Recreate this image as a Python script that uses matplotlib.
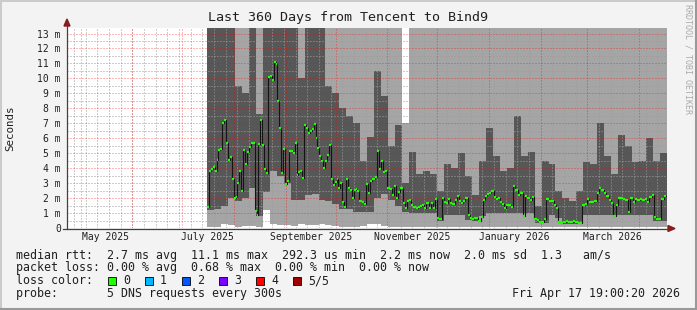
import numpy as np
import pandas as pd
import matplotlib
matplotlib.use('Agg')
import matplotlib.pyplot as plt
import matplotlib.dates as mdates
from matplotlib.patches import Rectangle, Polygon
from matplotlib.lines import Line2D

# time span of the graph
graph_start = '2025-04-22 19:00:20'
graph_end = '2026-04-17 19:00:20'

# median rtt (ms) in three stretches
median_bounds = ['2025-07-15 19:00', '2025-10-15 05:00', '2026-01-15 09:00', '2026-04-17 05:00']
median_a = [1.43, 3.8, 3.96, 4.1, 3.8, 4.55, 5.2, 5.3, 7.0, 7.25,
            5.7, 4.55, 4.75, 3.3, 2.03, 2.1, 3.0, 3.8, 2.48, 5.2,
            4.3, 5.1, 5.4, 5.7, 5.7, 1.14, 0.87, 5.6, 7.25, 5.57,
            3.96, 3.7, 10.07, 10.15, 9.87, 11.1, 10.94, 8.52, 6.7, 3.7,
            5.3, 2.95, 3.15, 5.12, 5.17, 5.0, 5.7, 3.56, 3.74, 3.78,
            3.37, 6.9, 6.69, 6.36, 6.46, 6.64, 6.96, 6.02, 5.35, 4.79,
            4.5, 4.0, 4.45, 4.9, 5.57, 3.29, 2.89, 3.1, 3.29, 2.7,
            3.0, 1.77, 1.43, 3.29, 2.66, 2.55, 1.99, 2.55, 2.62, 2.48]
median_b = [1.81, 1.77, 1.59, 2.93, 2.33, 3.15, 3.29, 3.44, 5.17, 3.96,
            4.45, 3.74, 3.78, 2.7, 2.62, 2.21, 2.84, 1.99, 2.44, 2.7,
            1.66, 1.36, 1.81, 1.88, 1.54, 1.43, 1.36, 1.43, 1.5, 1.54,
            1.36, 1.66, 1.36, 1.66, 1.36, 1.95, 0.65, 0.6, 1.99, 1.77,
            1.66, 1.95, 1.66, 1.59, 1.88, 2.17, 1.81, 1.66, 1.81, 2.03,
            0.87, 0.69, 0.6, 0.65, 0.65, 0.47, 0.76, 1.88, 2.17, 2.26,
            2.33, 2.48, 2.1, 1.95, 2.03, 1.72, 1.59, 1.36, 1.54, 1.54,
            1.43]
median_c = [2.84, 2.55, 2.21, 2.33, 0.83, 2.17, 1.99, 1.88, 2.1, 0.6,
            0.54, 0.42, 0.42, 0.6, 1.95, 1.81, 1.81, 1.54, 1.36, 0.38,
            0.31, 0.38, 0.47, 0.38, 0.42, 0.47, 0.38, 0.31, 0.31, 1.54,
            1.59, 1.95, 1.77, 1.72, 1.81, 2.33, 2.7, 2.55, 2.33, 2.17,
            1.88, 1.66, 0.83, 1.54, 2.03, 2.03, 1.95, 1.88, 1.09, 1.99,
            1.72, 1.95, 1.88, 1.95, 1.88, 1.95, 1.72, 2.1, 2.21, 0.76,
            0.6, 0.6, 1.95, 2.17]

# smoke: sorted pings 1, 2, 4, 5 (ms), coarser bins
smoke_start = '2025-07-15 19:00'
smoke_end = '2026-04-17 19:00'
ping1 = [0.05, 0.08, 0.25, 0.2, 0.1, 0.12, 0.15, 0.1, 1.2, 0.3,
         0.2, 0.2, 0.15, 0.25, 0.2, 0.2, 0.3, 0.2, 0.15, 0.1,
         0.1, 0.1, 0.15, 0.3, 0.3, 0.15, 0.1, 0.08, 0.08, 0.08,
         0.06, 0.06, 0.08, 0.06, 0.06, 0.08, 0.06, 0.06, 0.06, 0.06,
         0.08, 0.06, 0.06, 0.08, 0.06, 0.06, 0.06, 0.06, 0.06, 0.08,
         0.06, 0.05, 0.05, 0.05, 0.08, 0.06, 0.08, 0.06, 0.06, 0.08,
         0.06, 0.08, 0.06, 0.06, 0.06, 0.08]
ping2 = [1.2, 1.3, 1.5, 2.0, 1.8, 2.0, 2.7, 0.8, 2.4, 3.8,
         3.5, 3.0, 1.9, 1.9, 2.2, 2.3, 1.9, 1.8, 1.6, 1.3,
         1.3, 1.1, 1.1, 1.1, 2.0, 2.3, 1.9, 1.5, 1.1, 1.0,
         1.0, 1.0, 1.0, 0.5, 0.9, 0.9, 0.9, 0.55, 0.5, 0.8,
         1.0, 1.0, 1.0, 1.0, 1.0, 1.0, 1.0, 0.35, 0.35, 0.9,
         0.7, 0.28, 0.28, 0.28, 0.9, 0.9, 0.9, 0.9, 0.9, 0.9,
         0.9, 0.9, 0.9, 0.9, 0.45, 0.45]
ping4 = [14, 14, 14, 14, 9.5, 9.0, 14, 7.6, 14, 14,
         14, 14, 14, 10.0, 14, 14, 14, 9.5, 9.0, 8.0,
         7.5, 7.0, 4.5, 6.1, 10.5, 8.8, 5.5, 6.9, 3.0, 5.1,
         3.6, 3.8, 3.6, 2.5, 4.3, 4.0, 5.0, 3.5, 2.2, 4.5,
         6.7, 4.8, 3.8, 4.0, 7.5, 4.8, 5.1, 1.5, 4.5, 4.3,
         2.5, 2.0, 1.8, 2.5, 4.4, 4.3, 7.0, 4.8, 3.6, 6.2,
         5.5, 4.4, 4.5, 6.0, 4.5, 5.0]
ping5 = [14] * 28 + [7.0] + [14] * 37

month_label_dates = ['2025-05-16', '2025-07-16', '2025-09-16', '2025-11-16', '2026-01-16', '2026-03-16']
month_labels = ['May 2025', 'July 2025', 'September 2025', 'November 2025', 'January 2026', 'March 2026']

loss_labels = ['0', '1', '2', '3', '4', '5/5']
loss_colors = ['#20ff00', '#00b8ff', '#0059ff', '#7e00ff', '#ff0000', '#a10000']

W, H = 697, 310
MONO = 'DejaVu Sans Mono'


def num(dates):
    return mdates.date2num(pd.DatetimeIndex(dates).to_pydatetime())


def px(x, y):
    return x / W, 1 - y / H


fig = plt.figure(figsize=(W / 100, H / 100), dpi=100, facecolor='#f3f3f3')
ax = fig.add_axes([67 / W, (H - 228) / H, 600 / W, 200 / H], facecolor='white')

# smoke
edges = num(pd.date_range(smoke_start, smoke_end, periods=len(ping2) + 1))
def band(lo, hi, color):
    lo = np.append(lo, lo[-1])
    hi = np.append(hi, hi[-1])
    ax.fill_between(edges, lo, hi, step='post', color=color, lw=0, zorder=2)
band(ping1, ping2, '#a5a5a5')
band(ping2, ping4, '#575757')
band(ping4, ping5, '#a5a5a5')

# grid (dotted, drawn over the smoke like rrdtool does)
minor = dict(color='#9d9d9d', alpha=0.5, lw=1.0, dashes=(1, 1), antialiased=False, zorder=3)
major = dict(color='#ff0000', alpha=0.28, lw=1.0, dashes=(1, 1), antialiased=False, zorder=3)
for d in pd.date_range('2025-04-27', graph_end, freq='7D'):
    ax.axvline(mdates.date2num(d), **minor)
for v in np.arange(0.5, 13.5, 1.0):
    ax.axhline(v, **minor)
for d in pd.date_range('2025-05-01', graph_end, freq='MS'):
    ax.axvline(mdates.date2num(d), **major)
for v in range(1, 14):
    ax.axhline(v, **major)

# median line
lefts, rights, meds = [], [], []
for i, vals in enumerate([median_a, median_b, median_c]):
    e = num(pd.date_range(median_bounds[i], median_bounds[i + 1], periods=len(vals) + 1))
    lefts.append(e[:-1])
    rights.append(e[1:])
    meds.append(np.array(vals))
lefts = np.concatenate(lefts)
rights = np.concatenate(rights)
meds = np.concatenate(meds)
ax.step(np.append(lefts, rights[-1]), np.append(meds, meds[-1]), where='post',
        color='#141414', lw=0.8, zorder=4)
ax.hlines(meds, lefts, rights, colors='#20ff00', lw=1.6, zorder=5)

ax.set_xlim(num([graph_start, graph_end]))
ax.set_ylim(0, 13.37)
for s in ax.spines.values():
    s.set_visible(False)

ax.set_yticks(range(14))
ax.set_yticklabels(['0'] + ['%d m' % i for i in range(1, 14)], family=MONO, fontsize=7)
ax.set_xticks(num(month_label_dates))
ax.set_xticklabels(month_labels, family=MONO, fontsize=7)
ax.tick_params(axis='y', length=0, pad=4.5, colors='#202020')
ax.tick_params(axis='x', length=0, pad=3.2, colors='#202020')

# axes with arrows
fig.add_artist(Line2D(*zip(px(67, 229), px(67, 22)), color='#404040', lw=0.9))
fig.add_artist(Line2D(*zip(px(63, 228.5), px(670, 228.5)), color='#404040', lw=0.9))
fig.add_artist(Polygon([px(64, 26), px(70, 26), px(67, 19)], closed=True,
                       color='#8b1a1a', transform=fig.transFigure))
fig.add_artist(Polygon([px(668, 225.5), px(668, 231.5), px(675, 228.5)], closed=True,
                       color='#8b1a1a', transform=fig.transFigure))

# frame shading
fig.add_artist(Line2D(*zip(px(0.5, 310), px(0.5, 0.5)), color='#cbcbcb', lw=1.5))
fig.add_artist(Line2D(*zip(px(0, 0.5), px(697, 0.5)), color='#cbcbcb', lw=1.5))
fig.add_artist(Line2D(*zip(px(696, 0), px(696, 310)), color='#999999', lw=1.5))
fig.add_artist(Line2D(*zip(px(0, 309), px(697, 309)), color='#999999', lw=1.5))

# texts
fig.text(*px(348, 18), 'Last 360 Days from Tencent to Bind9', family=MONO,
         fontsize=9.6, ha='center', va='center', color='#202020')
fig.text(*px(10, 128), 'Seconds', family=MONO, fontsize=7.8, rotation=90,
         ha='center', va='center', color='#202020')
fig.text(*px(688, 4), 'RRDTOOL / TOBI OETIKER', family=MONO, fontsize=6,
         rotation=270, ha='center', va='top', color='#aaaaaa')

legend_rows = [
    (255, 'median rtt:  2.7 ms avg  11.1 ms max  292.3 us min  2.2 ms now  2.0 ms sd  1.3   am/s'),
    (268, 'packet loss: 0.00 % avg  0.68 % max  0.00 % min  0.00 % now'),
    (281, 'loss color:'),
    (294, 'probe:       5 DNS requests every 300s'),
]
for y, s in legend_rows:
    fig.text(*px(16, y), s, family=MONO, fontsize=8.4, ha='left', va='center', color='#202020')
fig.text(*px(680, 294), 'Fri Apr 17 19:00:20 2026', family=MONO, fontsize=8.4,
         ha='right', va='center', color='#202020')

for i, (lab, col) in enumerate(zip(loss_labels, loss_colors)):
    x0 = 108 + i * 37
    bx, by = px(x0, 285)
    fig.add_artist(Rectangle((bx, by), 8 / W, 8 / H, transform=fig.transFigure,
                             facecolor=col, edgecolor='black', lw=0.6))
    fig.text(*px(x0 + 15, 281), lab, family=MONO, fontsize=8.4, ha='left',
             va='center', color='#202020')

fig.savefig('out.png', dpi=100, facecolor=fig.get_facecolor())
